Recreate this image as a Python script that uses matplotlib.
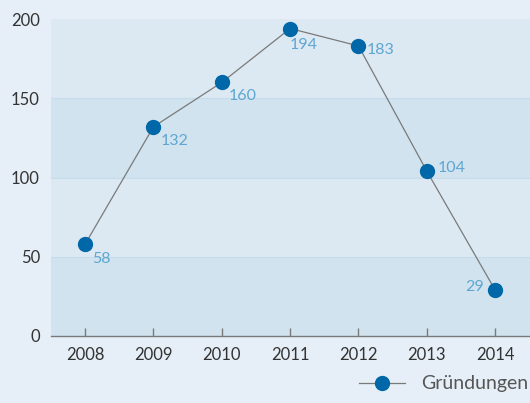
import matplotlib
matplotlib.use("Agg")
import matplotlib.pyplot as plt
from matplotlib.lines import Line2D

years = [2008, 2009, 2010, 2011, 2012, 2013, 2014]
values = [58, 132, 160, 194, 183, 104, 29]
yticks = [0, 50, 100, 150, 200]
series_name = "Gründungen"
# label offsets in points (dx, dy, ha)
label_offsets = [(5, -11, "left"), (5, -10, "left"), (5, -10, "left"), (0, -12, "left"),
                 (6, -3, "left"), (8, 2, "left"), (-8, 2, "right")]

plt.rcParams['font.family'] = ['Lato', 'DejaVu Sans']

fig = plt.figure(figsize=(5.30, 4.03), dpi=100)
fig.patch.set_facecolor("#e6eff7")
ax = fig.add_axes([51/530, 1-336/403, 479/530, 317/403])
ax.set_facecolor("#dce9f2")
ax.set_xlim(2007.5, 2014.51)
ax.set_ylim(0, 200)

band_colors = ["#d1e3ee", "#dce9f2", "#d1e3ee", "#dce9f2"]
for i in range(4):
    ax.axhspan(yticks[i], yticks[i+1], color=band_colors[i], zorder=0, lw=0)
for y in yticks[1:-1]:
    ax.axhline(y, color="#c4dcec", lw=0.8, zorder=0.5)

ax.plot(years, values, color="#7a7a7a", lw=0.9, zorder=2)
ax.plot(years, values, "o", color="#0068a8", ms=10, zorder=3)

for x, v, (dx, dy, ha) in zip(years, values, label_offsets):
    ax.annotate(str(v), (x, v), xytext=(dx, dy), textcoords="offset points",
                ha=ha, va="center", color="#5fa6d2", fontsize=11.5, zorder=4)

for s in ["left", "right", "top"]:
    ax.spines[s].set_visible(False)
ax.spines["bottom"].set_color("#7a7a7a")
ax.spines["bottom"].set_linewidth(1.0)

ax.set_xticks(years)
ax.set_xticklabels([str(y) for y in years])
ax.set_yticks(yticks)
ax.tick_params(axis="x", direction="in", length=6, width=1, color="#7a7a7a",
               labelsize=12, labelcolor="#333333", pad=8)
ax.tick_params(axis="y", length=0, labelsize=12, labelcolor="#333333", pad=8)

handle = Line2D([0], [0], color="#7a7a7a", lw=0.9, marker="o", ms=10,
                markerfacecolor="#0068a8", markeredgecolor="#0068a8")
fig.legend([handle], [series_name], loc="center right", bbox_to_anchor=(1.0, 1-384/403),
           frameon=False, fontsize=14, labelcolor="#555555", handlelength=2.4,
           handletextpad=0.8, borderaxespad=0, borderpad=0.1)

fig.savefig("out.png", dpi=100, facecolor=fig.get_facecolor())
